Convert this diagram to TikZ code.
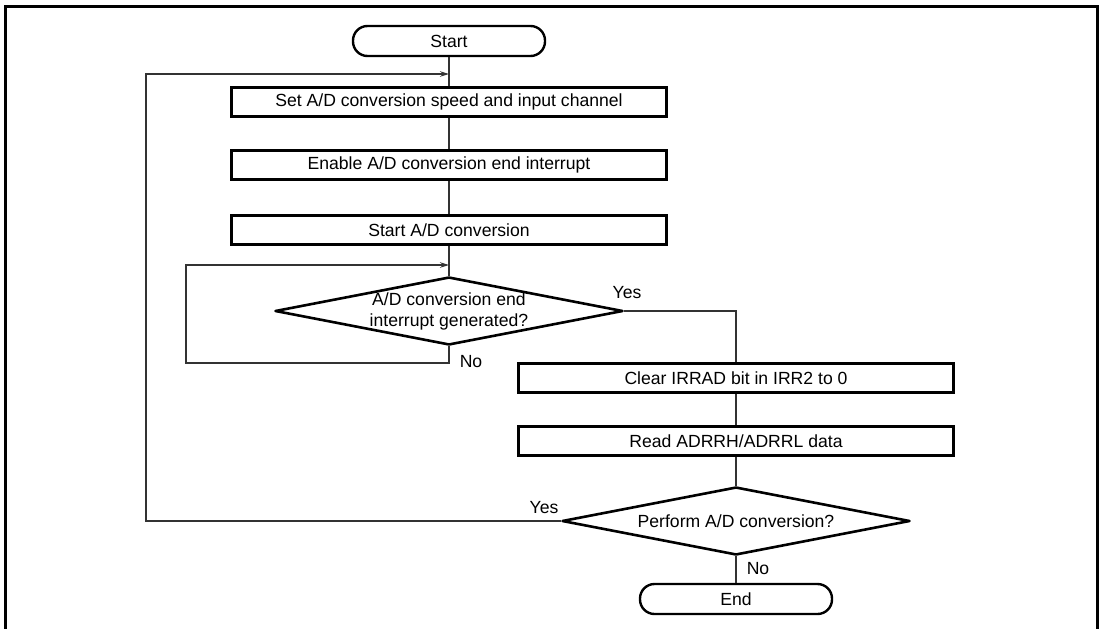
\documentclass[tikz,border=0pt]{standalone}
\usepackage{fontspec}
\setmainfont{Liberation Sans}
\usetikzlibrary{shapes.geometric,arrows.meta}
\begin{document}
\begin{tikzpicture}[x=1pt,y=-1pt,
  txt/.style={font=\fontsize{17.6}{21}\selectfont,inner sep=0pt,align=center},
  proc/.style={draw,line width=2.6pt,minimum width=435pt,minimum height=29pt,inner sep=0pt,txt},
  term/.style={draw,line width=2.4pt,rounded corners=14.5pt,minimum width=192pt,minimum height=30pt,inner sep=0pt,txt},
  dec/.style={draw,diamond,line width=2.6pt,line join=round,minimum width=348pt,minimum height=68pt,inner sep=0pt},
  conn/.style={draw=black!80,line width=1.3pt},
  arr/.style={-{Stealth[length=9pt,width=5.5pt]}},
  frame/.style={line width=3pt}
]
\useasboundingbox (0,0) rectangle (1103,629);
\draw[frame] (5,629) -- (5,6.5) -- (1097.5,6.5) -- (1097.5,629);

\node[term] (start) at (449,41) {Start};
\node[proc] (b1) at (449,102) {Set A/D conversion speed and input channel};
\node[proc] (b2) at (449,165) {Enable A/D conversion end interrupt};
\node[proc] (b3) at (449,230) {Start A/D conversion};
\node[dec] (d1) at (449,311) {};
\node[txt] (d1t) at (449,311) {A/D conversion end\\interrupt generated?};
\node[proc] (b4) at (736,378) {Clear IRRAD bit in IRR2 to 0};
\node[proc] (b5) at (736,441) {Read ADRRH/ADRRL data};
\node[dec] (d2) at (736,521) {};
\node[txt] (d2t) at (736,521) {Perform A/D conversion?};
\node[term] (end) at (736,599) {End};

\coordinate (j1) at (449,74);
\coordinate (j2) at (449,265);
\coordinate (l1) at (186,363);
\coordinate (l2) at (146,521);

\draw[conn] (start.south) -- (b1.north);
\draw[conn] (b1.south) -- (b2.north);
\draw[conn] (b2.south) -- (b3.north);
\draw[conn] (b3.south) -- (d1.north);
\draw[conn,arr] (d1.south) |- (l1) |- (j2);
\draw[conn] (d1.east) -| (b4.north);
\draw[conn] (b4.south) -- (b5.north);
\draw[conn] (b5.south) -- (d2.north);
\draw[conn] (d2.south) -- (end.north);
\draw[conn,arr] (d2.west) -- (l2) |- (j1);

\node[txt] (y1) at (627,293) {Yes};
\node[txt] (n1) at (471,362) {No};
\node[txt] (y2) at (544,508) {Yes};
\node[txt] (n2) at (758,569) {No};
\end{tikzpicture}
\end{document}
